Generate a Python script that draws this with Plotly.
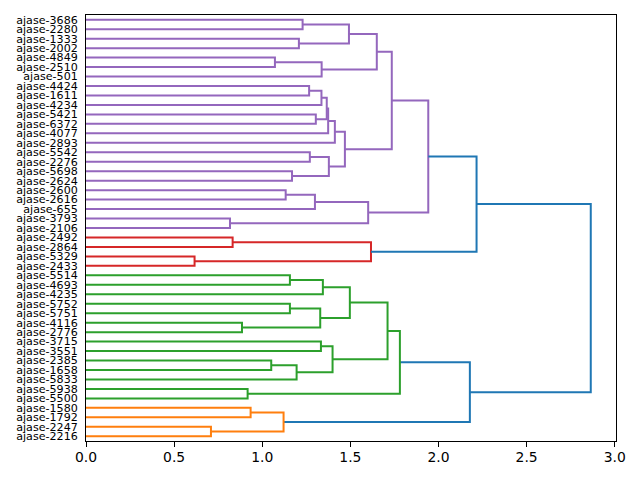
import plotly.graph_objects as go

# Leaf labels, top to bottom
labels = [
    "ajase-3686", "ajase-2280", "ajase-1333", "ajase-2002", "ajase-4849",
    "ajase-2510", "ajase-501", "ajase-4424", "ajase-1611", "ajase-4234",
    "ajase-5421", "ajase-6372", "ajase-4077", "ajase-2893", "ajase-5542",
    "ajase-2276", "ajase-5698", "ajase-2624", "ajase-2600", "ajase-2616",
    "ajase-655", "ajase-3793", "ajase-2106", "ajase-2492", "ajase-2864",
    "ajase-5329", "ajase-2433", "ajase-5514", "ajase-4693", "ajase-4235",
    "ajase-5752", "ajase-5751", "ajase-4116", "ajase-2776", "ajase-3715",
    "ajase-3551", "ajase-2385", "ajase-1658", "ajase-5833", "ajase-5938",
    "ajase-5500", "ajase-1580", "ajase-1792", "ajase-2247", "ajase-2216",
]

# Merges: (child a, child b, height); a child is a leaf label or the index of an earlier merge
merges = [
    ("ajase-3686", "ajase-2280", 1.229),   # 0
    ("ajase-1333", "ajase-2002", 1.208),   # 1
    (0, 1, 1.492),                         # 2
    ("ajase-4849", "ajase-2510", 1.072),   # 3
    (3, "ajase-501", 1.337),               # 4
    (2, 4, 1.650),                         # 5
    ("ajase-4424", "ajase-1611", 1.266),   # 6
    (6, "ajase-4234", 1.336),              # 7
    ("ajase-5421", "ajase-6372", 1.304),   # 8
    (7, 8, 1.366),                         # 9
    (9, "ajase-4077", 1.374),              # 10
    (10, "ajase-2893", 1.412),             # 11
    ("ajase-5542", "ajase-2276", 1.270),   # 12
    ("ajase-5698", "ajase-2624", 1.169),   # 13
    (12, 13, 1.378),                       # 14
    (11, 14, 1.469),                       # 15
    (5, 15, 1.735),                        # 16
    ("ajase-2600", "ajase-2616", 1.133),   # 17
    (17, "ajase-655", 1.299),              # 18
    ("ajase-3793", "ajase-2106", 0.817),   # 19
    (18, 19, 1.601),                       # 20
    (16, 20, 1.942),                       # 21
    ("ajase-2492", "ajase-2864", 0.832),   # 22
    ("ajase-5329", "ajase-2433", 0.616),   # 23
    (22, 23, 1.617),                       # 24
    (21, 24, 2.216),                       # 25
    ("ajase-5514", "ajase-4693", 1.157),   # 26
    (26, "ajase-4235", 1.344),             # 27
    ("ajase-5752", "ajase-5751", 1.157),   # 28
    ("ajase-4116", "ajase-2776", 0.885),   # 29
    (28, 29, 1.329),                       # 30
    (27, 30, 1.497),                       # 31
    ("ajase-3715", "ajase-3551", 1.333),   # 32
    ("ajase-2385", "ajase-1658", 1.051),   # 33
    (33, "ajase-5833", 1.195),             # 34
    (32, 34, 1.399),                       # 35
    (31, 35, 1.711),                       # 36
    ("ajase-5938", "ajase-5500", 0.917),   # 37
    (36, 37, 1.781),                       # 38
    ("ajase-1580", "ajase-1792", 0.934),   # 39
    ("ajase-2247", "ajase-2216", 0.709),   # 40
    (39, 40, 1.121),                       # 41
    (38, 41, 2.178),                       # 42
    (25, 42, 2.864),                       # 43
]

palette = ["#ff7f0e", "#2ca02c", "#d62728", "#9467bd", "#8c564b"]
above_color = "#1f77b4"

leaf_pos = {lab: 5 + 10 * i for i, lab in enumerate(labels)}
pos = {}
height = {}
leafmax = {}


def child_info(c):
    if isinstance(c, str):
        return leaf_pos[c], 0.0, labels.index(c)
    return pos[c], height[c], leafmax[c]


for k, (a, b, h) in enumerate(merges):
    ya, ha, la = child_info(a)
    yb, hb, lb = child_info(b)
    pos[k] = (ya + yb) / 2
    height[k] = h
    leafmax[k] = max(la, lb)

max_h = max(height.values())
threshold = 0.7 * max_h

parent = {}
for k, (a, b, h) in enumerate(merges):
    for c in (a, b):
        if not isinstance(c, str):
            parent[c] = k

# maximal below-threshold clusters, coloured from the bottom leaf upward
tops = [k for k in range(len(merges)) if height[k] < threshold and
        (k not in parent or height[parent[k]] >= threshold)]
tops.sort(key=lambda k: -leafmax[k])
top_color = {k: palette[i % len(palette)] for i, k in enumerate(tops)}


def color_of(k):
    if height[k] >= threshold:
        return above_color
    while k in parent and height[parent[k]] < threshold:
        k = parent[k]
    return top_color[k]


groups = {}
order = []
for k, (a, b, h) in enumerate(merges):
    ya, ha, _ = child_info(a)
    yb, hb, _ = child_info(b)
    col = color_of(k)
    if col not in groups:
        groups[col] = ([], [])
        order.append(col)
    xs, ys = groups[col]
    xs += [ha, h, h, hb, None]
    ys += [ya, ya, yb, yb, None]

fig = go.Figure()
for col in order:
    xs, ys = groups[col]
    fig.add_trace(go.Scatter(x=xs, y=ys, mode="lines",
                             line=dict(color=col, width=2),
                             hoverinfo="skip", showlegend=False))

fig.update_layout(
    width=640, height=480,
    margin=dict(l=86, r=24, t=15, b=39),
    paper_bgcolor="white", plot_bgcolor="white",
    font=dict(family="DejaVu Sans", color="black"),
    showlegend=False,
)
fig.update_xaxes(
    range=[0, 1.05 * max_h],
    tickvals=[0, 0.5, 1.0, 1.5, 2.0, 2.5, 3.0],
    tickformat=".1f",
    ticks="outside", ticklen=5, tickwidth=1, tickcolor="black",
    ticklabelstandoff=-2,
    showline=True, mirror=True, linecolor="black", linewidth=1,
    showgrid=False, zeroline=False,
    tickfont=dict(size=13.9, family="DejaVu Sans", color="black"),
)
fig.update_yaxes(
    range=[10 * len(labels), 0],
    tickvals=[leaf_pos[l] for l in labels],
    ticktext=labels,
    ticks="", ticklabelstandoff=5,
    showline=True, mirror=True, linecolor="black", linewidth=1,
    showgrid=False, zeroline=False,
    tickfont=dict(size=11.1, family="DejaVu Sans", color="black"),
)

fig.write_html("out.html")
